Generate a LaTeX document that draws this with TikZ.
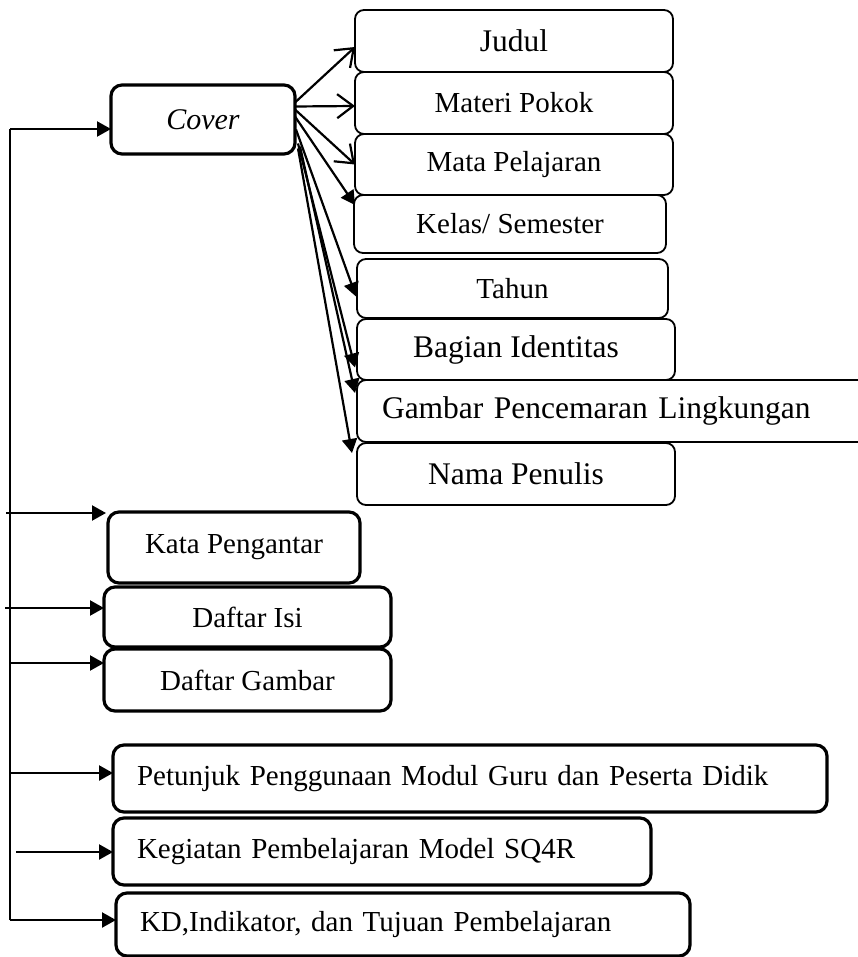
\documentclass[tikz,border=0pt]{standalone}
\usepackage{fontspec}
\setmainfont{Liberation Serif}
\usetikzlibrary{arrows.meta,calc}
\begin{document}
\begin{tikzpicture}[x=1pt,y=-1pt,
  every node/.style={outer sep=0pt, inner sep=0pt, font=\fontsize{29}{34}\selectfont},
  thinbox/.style={draw, line width=1.8pt, rounded corners=9pt},
  thickbox/.style={draw, line width=3.2pt, rounded corners=11pt},
  sz/.style 2 args={minimum width=#1pt, minimum height=#2pt},
  big/.style={font=\fontsize{31.5}{36}\selectfont},
  leftbox/.style 2 args={minimum height=#2pt, text width=#1pt, align=left, inner xsep=24pt},
  link/.style={line width=2.2pt},
  solidtip/.style={link, -{Triangle[length=14pt,width=15pt]}},
  opentip/.style={link, -{Straight Barb[length=16pt,width=24pt]}},
]
\useasboundingbox (0,0) rectangle (858,957);
\clip (0,0) rectangle (858,957);

% main entry
\node[thickbox, sz={184}{69}, font=\fontsize{30}{34}\selectfont\itshape] (cover) at (203,119.5) {Cover};

% parts of the cover
\node[thinbox, sz={318}{62}, big] (judul) at (514,41) {Judul};
\node[thinbox, sz={318}{62}] (materi) at (514,103) {Materi Pokok};
\node[thinbox, sz={318}{61}] (mapel) at (514,164.5) {Mata Pelajaran};
\node[thinbox, sz={312}{58}] (kelas) at (510,224) {Kelas/ Semester};
\node[thinbox, sz={311}{59}] (tahun) at (512.5,288.5) {Tahun};
\node[thinbox, sz={318}{61}, big] (identitas) at (516,349.5) {Bagian Identitas};
\node[thinbox, big, anchor=west, text width=475pt, align=left, inner xsep=25pt, minimum height=62pt]
  (gambar) at (357,411) {Gambar Pencemaran Lingkungan};
\node[thinbox, sz={318}{62}, big] (penulis) at (516,474) {Nama Penulis};

% remaining sections
\node[thickbox, sz={252}{71}] (kata) at (234,547.5) {Kata Pengantar};
\node[thickbox, sz={287}{60}] (isi) at (247.5,617) {Daftar Isi};
\node[thickbox, sz={287}{62}] (dgambar) at (247.5,680) {Daftar Gambar};
\node[thickbox, anchor=west, leftbox={666}{67}] (petunjuk) at (113,778.5)
  {Petunjuk Penggunaan Modul Guru dan Peserta Didik};
\node[thickbox, anchor=west, leftbox={490}{67}] (kegiatan) at (113,851.5)
  {Kegiatan Pembelajaran Model SQ4R};
\node[thickbox, anchor=west, leftbox={526}{63}] (kd) at (116,924.5)
  {KD,Indikator, dan Tujuan Pembelajaran};

% fan of arrows out of the cover box
\draw[opentip] ($(cover.east)+(0,-17)$) -- ($(judul.west)+(0,6)$);
\draw[opentip] ($(cover.east)+(0,-13)$) -- ($(materi.west)+(0,3)$);
\draw[opentip] ($(cover.east)+(0,-10)$) -- (mapel.west);
\draw[solidtip] ($(cover.east)+(0,-3)$) -- ($(kelas.north west)+(1,10)$);
\draw[solidtip] ($(cover.east)+(1,10)$) -- ($(tahun.west)+(-1,8)$);
\draw[solidtip] ($(cover.east)+(3,24)$) -- ($(identitas.west)+(-2,18)$);
\draw[solidtip] ($(cover.east)+(5,27)$) -- ($(gambar.west)+(-2,-18)$);
\draw[solidtip] ($(cover.east)+(3,29)$) -- ($(penulis.north west)+(-5,10)$);

% spine on the left
\coordinate (spinetop) at (10,129);
\coordinate (spinebot) at (10,920);
\draw[link] (spinebot) -- (spinetop);
\draw[solidtip] (spinetop) -- (spinetop -| cover.west);
\draw[solidtip] (spinebot) -- (spinebot -| kd.west);

\coordinate (startkata) at (6,513);
\coordinate (startisi) at (5,608);
\coordinate (startdg) at (10,663);
\coordinate (startpt) at (10,773);
\coordinate (startkg) at (16,852);
\draw[solidtip] (startkata) -- ($(kata.north west)+(-2,1)$);
\draw[solidtip] (startisi) -- (startisi -| isi.west);
\draw[solidtip] (startdg) -- (startdg -| dgambar.west);
\draw[solidtip] (startpt) -- (startpt -| petunjuk.west);
\draw[solidtip] (startkg) -- (startkg -| kegiatan.west);
\end{tikzpicture}
\end{document}
